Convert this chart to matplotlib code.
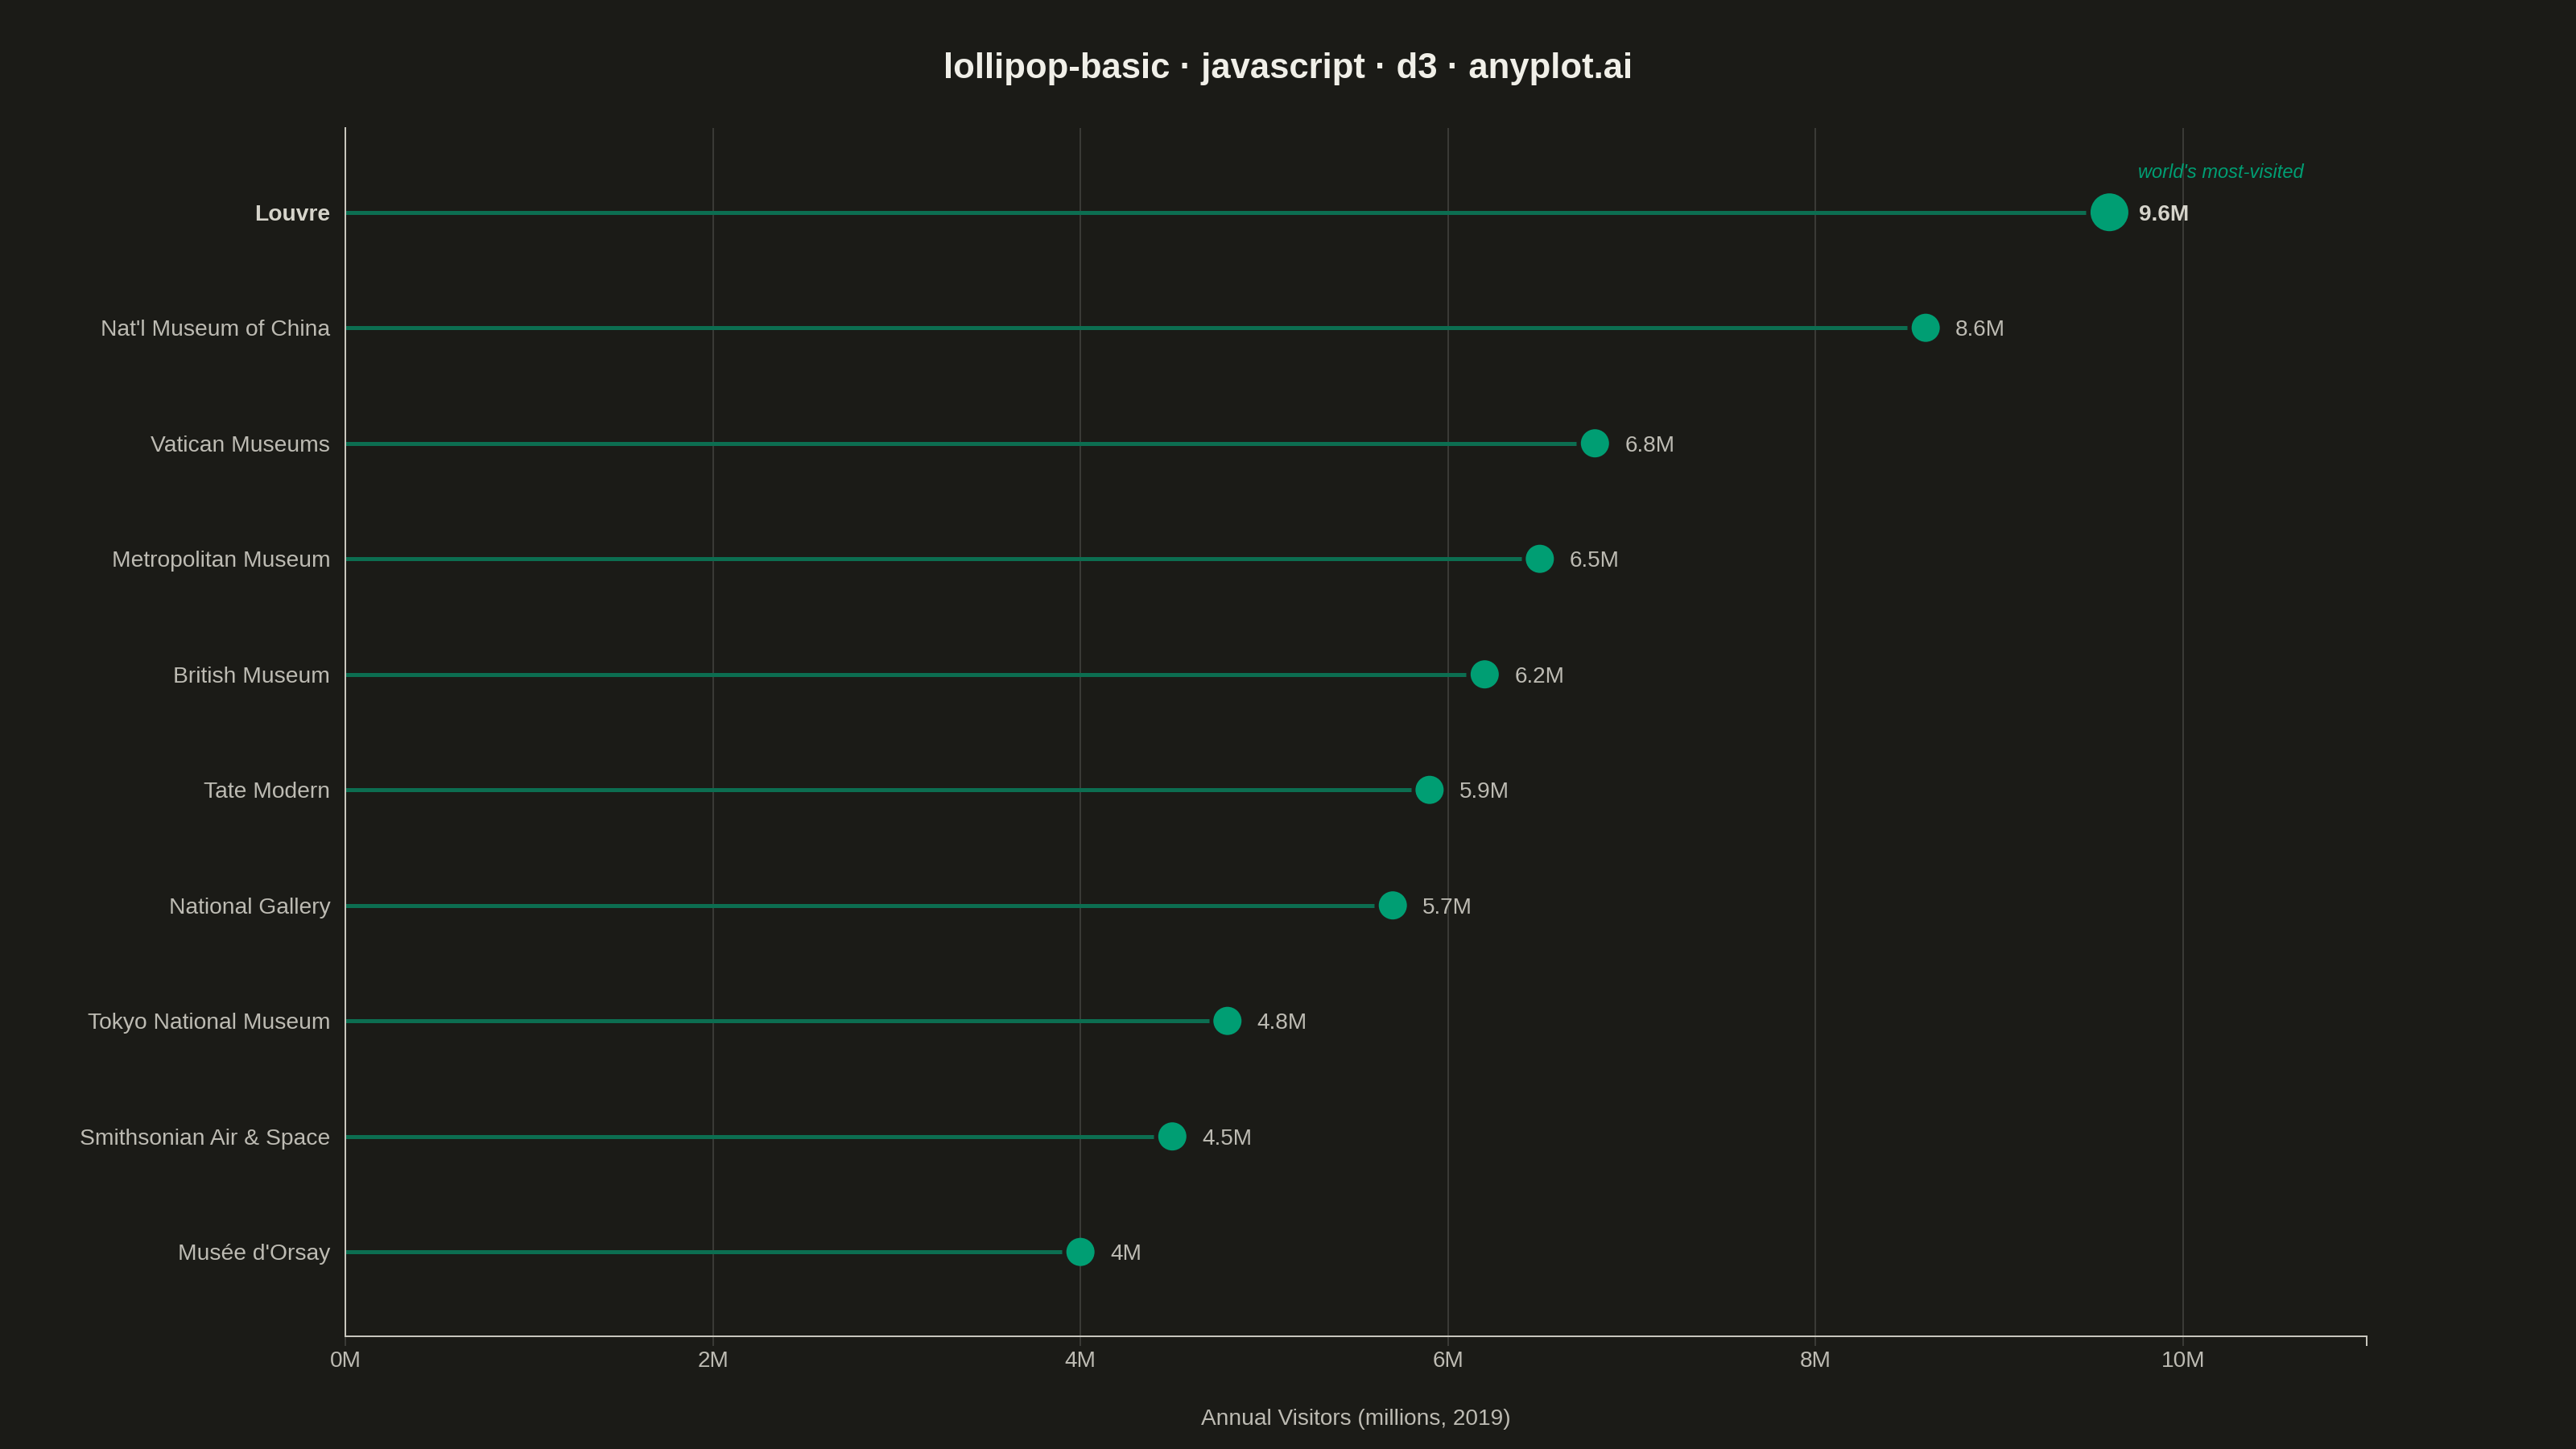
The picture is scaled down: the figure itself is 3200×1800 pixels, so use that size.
import numpy as np
import matplotlib
matplotlib.use("Agg")
import matplotlib.pyplot as plt
from matplotlib.ticker import FixedLocator


museums = ["Louvre", "Nat'l Museum of China", "Vatican Museums", "Metropolitan Museum",
           "British Museum", "Tate Modern", "National Gallery", "Tokyo National Museum",
           "Smithsonian Air & Space", "Musée d'Orsay"]
visitors = [9.6, 8.6, 6.8, 6.5, 6.2, 5.9, 5.7, 4.8, 4.5, 4.0]
value_labels = ["9.6M", "8.6M", "6.8M", "6.5M", "6.2M", "5.9M", "5.7M", "4.8M", "4.5M", "4M"]
x_ticks = [0, 2, 4, 6, 8, 10]
x_tick_labels = ["0M", "2M", "4M", "6M", "8M", "10M"]

BG = "#1b1b17"
GREEN = "#009e73"
STEM = "#0c6e51"
AXIS = "#c8c6bd"
TEXT = "#bdbbb3"
GRID = "#3a3a36"

plt.rcParams["font.family"] = ["Liberation Sans", "DejaVu Sans"]

fig = plt.figure(figsize=(32, 18), dpi=100, facecolor=BG)
ax = fig.add_axes([0.1341, 0.0778, 0.78465, 0.8339])
ax.set_facecolor(BG)

ax.set_xlim(0, 11)
ax.set_ylim(9.73, -0.73)

# pixels per million, used to stop the stems short of the dots
px_per_m = 0.78465 * 3200 / 11
y = np.arange(len(museums))

for i, (name, v) in enumerate(zip(museums, visitors)):
    top = i == 0
    r = 23.5 if top else 17.5
    ax.plot([0, v - (r + 5.5) / px_per_m], [i, i], color=STEM, lw=3.6,
            solid_capstyle="butt", zorder=2)
    ax.scatter([v], [i], s=(2 * r / 1.389) ** 2, color=GREEN, edgecolors="none", zorder=3)
    ax.annotate(value_labels[i], (v, i), xytext=(37 / 1.389, 0), textcoords="offset points",
                va="center_baseline", ha="left", fontsize=20.2,
                color="#d6d4cb" if top else TEXT, fontweight="bold" if top else "normal")

ax.annotate("world's most-visited", (visitors[0], 0), xytext=(36 / 1.389, 31),
            textcoords="offset points", va="baseline", ha="left", fontsize=17,
            color=GREEN, style="italic")

# axes styling
ax.set_yticks(y)
ax.set_yticklabels(museums)
for lbl in ax.get_yticklabels():
    lbl.set_color(TEXT)
ax.get_yticklabels()[0].set_fontweight("bold")
ax.get_yticklabels()[0].set_color("#d6d4cb")
ax.tick_params(axis="y", length=0, pad=13.5, labelsize=20.3)

ax.set_xticks(x_ticks)
ax.set_xticklabels(x_tick_labels)
ax.xaxis.set_minor_locator(FixedLocator([0, 11]))
ax.tick_params(axis="x", which="major", length=8.6, width=1.44, color=GRID,
               labelsize=20.2, labelcolor=TEXT, pad=4.5)
ax.tick_params(axis="x", which="minor", length=8.6, width=1.44, color=AXIS)

ax.grid(axis="x", color=GRID, lw=1.44, zorder=0)
ax.set_axisbelow(True)

for side in ["top", "right"]:
    ax.spines[side].set_visible(False)
for side in ["left", "bottom"]:
    ax.spines[side].set_color(AXIS)
    ax.spines[side].set_linewidth(1.44)

fig.text(0.5, 1 - 85 / 1800, "lollipop-basic · javascript · d3 · anyplot.ai",
         ha="center", va="center", fontsize=31.4, fontweight="bold", color="#f0efe8")
fig.text(1684 / 3200, 1 - 1763 / 1800, "Annual Visitors (millions, 2019)",
         ha="center", va="center", fontsize=20.2, color=TEXT)

fig.savefig("out.png", dpi=100, facecolor=BG)
